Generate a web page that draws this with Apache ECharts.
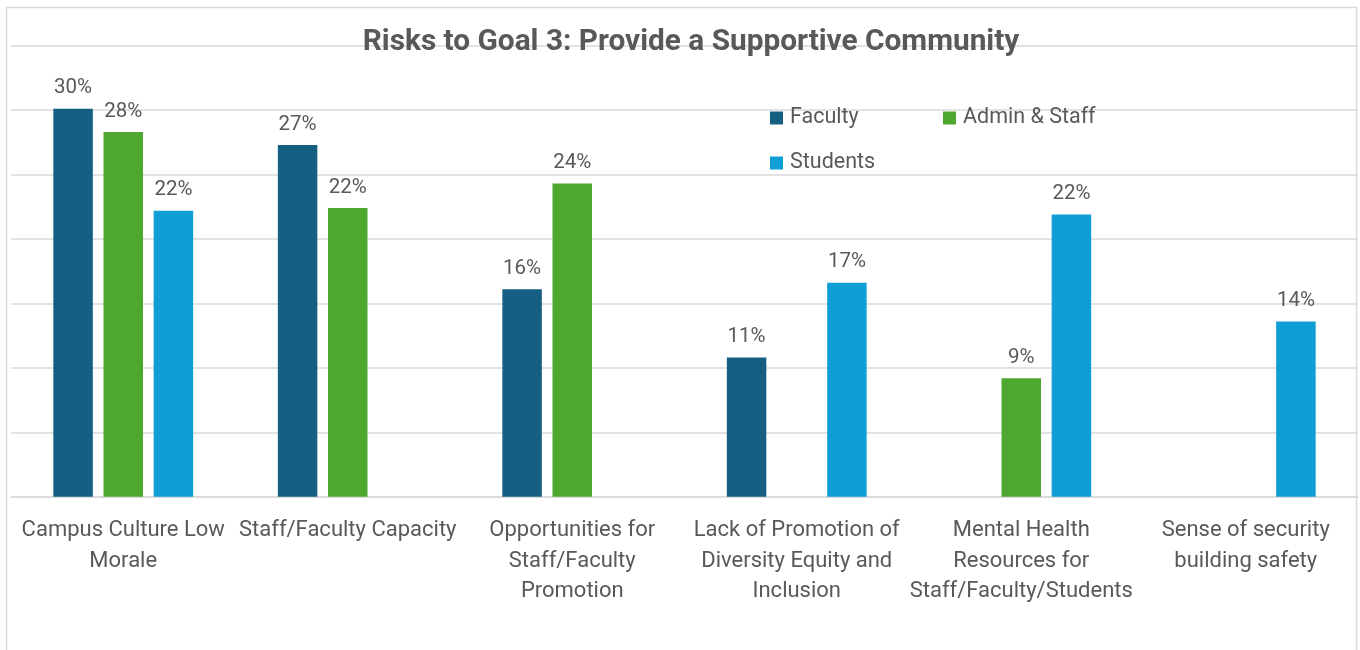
<!DOCTYPE html>
<html>
<head>
<meta charset="utf-8">
<script src="https://cdn.jsdelivr.net/npm/echarts@6/dist/echarts.min.js"></script>
<style>
html,body{margin:0;padding:0;background:#fff;}
#chart{width:1360px;height:650px;}
</style>
</head>
<body>
<div id="chart"></div>
<script>
const titleText = 'Risks to Goal 3: Provide a Supportive Community';
const categories = [
  'Campus Culture Low\nMorale',
  'Staff/Faculty Capacity',
  'Opportunities for\nStaff/Faculty\nPromotion',
  'Lack of Promotion of\nDiversity Equity and\nInclusion',
  'Mental Health\nResources for\nStaff/Faculty/Students',
  'Sense of security\nbuilding safety'
];
const seriesNames = ['Faculty', 'Admin & Staff', 'Students'];
const faculty = [30.1, 27.3, 16.1, 10.8, null, null];
const adminStaff = [28.3, 22.4, 24.3, null, 9.2, null];
const students = [22.2, null, null, 16.6, 21.9, 13.6];
const colors = ['#156082', '#4EA72E', '#0F9ED5'];
const yTicks = [0, 5, 10, 15, 20, 25, 30, 35];

const FONT = 'Roboto, "Noto Sans", sans-serif';
const TXT = '#595959';

const chart = echarts.init(document.getElementById('chart'));
const dataSets = [faculty, adminStaff, students];

function legendFor(name, left, top) {
  return {
    data: [name], left: left, top: top, icon: 'rect', itemWidth: 13, itemHeight: 13,
    itemGap: 0, padding: 0,
    textStyle: { fontFamily: FONT, fontSize: 21.5, color: TXT, lineHeight: 26, padding: [0, 0, 0, 2] }
  };
}

chart.setOption({
  animation: false,
  color: colors,
  title: {
    text: titleText, left: 686, top: 23, textAlign: 'center',
    textStyle: { fontFamily: FONT, fontWeight: 'bold', fontSize: 29.8, color: TXT }
  },
  legend: [
    legendFor('Faculty', 770, 105),
    legendFor('Admin & Staff', 943, 105),
    legendFor('Students', 770, 150)
  ],
  graphic: [{
    type: 'rect', shape: { x: 6.5, y: 7.5, width: 1350, height: 660 },
    style: { fill: 'none', stroke: '#D9D9D9', lineWidth: 1.5 }, silent: true, z: -10
  }],
  grid: { left: 11, right: 2, top: 45.7, bottom: 153.3, containLabel: false },
  xAxis: {
    type: 'category', data: categories,
    axisTick: { show: false },
    axisLine: { lineStyle: { color: '#D9D9D9', width: 1.5 } },
    axisLabel: {
      interval: 0, margin: 19, fontFamily: FONT, fontSize: 22, color: TXT, lineHeight: 30.5
    }
  },
  yAxis: {
    type: 'value', min: yTicks[0], max: yTicks[yTicks.length - 1], interval: yTicks[1] - yTicks[0],
    axisLabel: { show: false }, axisLine: { show: false }, axisTick: { show: false },
    splitLine: { lineStyle: { color: '#D9D9D9', width: 1.5 } }
  },
  series: seriesNames.map((n, i) => ({
    name: n, type: 'bar', data: dataSets[i], barWidth: 39.5, barGap: '27%',
    itemStyle: { color: colors[i] },
    label: {
      show: true, position: 'top', distance: 10,
      fontFamily: FONT, fontSize: 20.5, color: TXT,
      formatter: p => Math.round(p.value) + '%'
    }
  }))
});
</script>
</body>
</html>
